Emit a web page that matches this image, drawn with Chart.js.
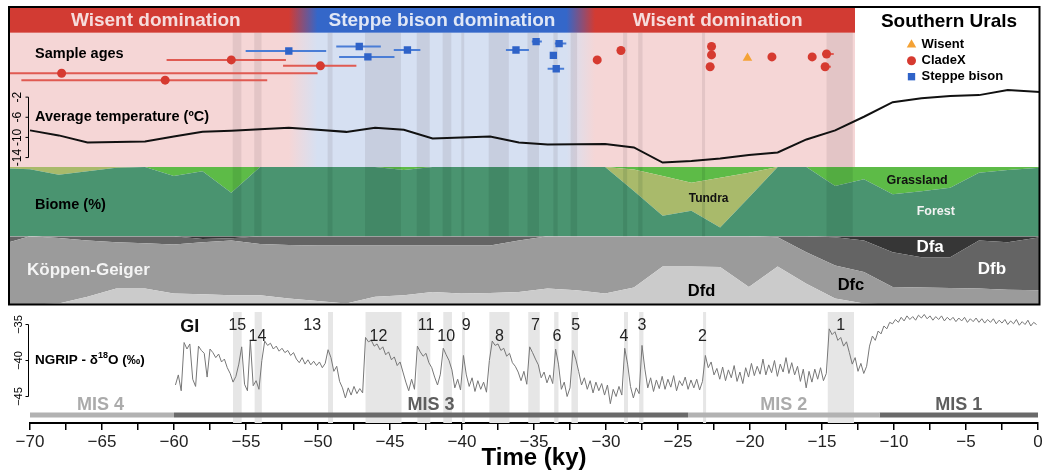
<!DOCTYPE html>
<html lang="en">
<head>
<meta charset="utf-8">
<title>Southern Urals – bison record</title>
<script src="https://cdn.jsdelivr.net/npm/chart.js@4.4.1/dist/chart.umd.min.js"></script>
<style>
  html, body { margin: 0; background: #fff; }
  #fig { position: relative; width: 1045px; height: 473px; overflow: hidden; }
  #fig canvas { position: absolute; left: 0; }
</style>
</head>
<body>
<div id="fig">
  <canvas id="panel" width="1045" height="310" style="top:0"></canvas>
  <canvas id="ngrip" width="1045" height="165" style="top:308px"></canvas>
</div>
<script>
const FONT = '"Liberation Sans", Arial, Helvetica, sans-serif';
Chart.defaults.font.family = FONT;
Chart.defaults.color = '#000';

// ---- dominance periods (ky) ----
const periodStart = [-71.5, -51.0, -31.7];
const periodEnd   = [-51.0, -31.7, -12.65];
const periodName  = ['Wisent domination', 'Steppe bison domination', 'Wisent domination'];
const periodTaxon = ['wisent', 'bison', 'wisent'];

// ---- Greenland interstadials ----
const giStart   = [-55.9, -54.4, -49.3, -46.7, -43.1, -41.3, -40.0, -38.1, -35.4, -33.6, -32.4, -28.75, -27.7, -23.26, -14.6];
const giEnd     = [-55.3, -53.9, -48.96, -44.2, -42.2, -40.7, -39.8, -36.7, -34.6, -33.3, -31.95, -28.47, -27.4, -23.05, -12.78];
const giName    = ['15', '14', '13', '12', '11', '10', '9', '8', '7', '6', '5', '4', '3', '2', '1'];
const giLabelAt = [-55.6, -54.2, -50.4, -45.8, -42.5, -41.1, -39.7, -37.4, -34.9, -33.4, -32.1, -28.75, -27.5, -23.3, -13.7];

// ---- dated samples: age, 2-sigma range, plotting row ----
const sampleClade = ['CladeX', 'CladeX', 'CladeX', 'CladeX', 'Steppe bison', 'Steppe bison', 'Steppe bison', 'Steppe bison',
  'Steppe bison', 'Steppe bison', 'Steppe bison', 'Steppe bison', 'Steppe bison', 'CladeX', 'CladeX', 'CladeX', 'CladeX',
  'CladeX', 'Wisent', 'CladeX', 'CladeX', 'CladeX', 'CladeX'];
const sampleAge = [-56.0, -49.8, -67.8, -60.6, -52.0, -47.1, -46.5, -43.75, -36.2, -34.8, -33.2, -33.6, -33.4,
  -30.55, -28.9, -22.6, -22.6, -22.7, -20.1, -18.4, -15.6, -14.6, -14.7];
const sampleMin = [-60.5, -52.4, -71.4, -70.6, -55.0, -48.7, -48.5, -44.7, -36.9, -35.1, -33.5, -33.75, -34.0,
  -30.75, -29.15, -22.6, -22.6, -22.7, -20.1, -18.4, -15.6, -14.9, -14.7];
const sampleMax = [-52.2, -47.3, -50.0, -53.5, -49.4, -45.6, -44.65, -42.85, -35.3, -34.4, -32.7, -33.45, -32.85,
  -30.35, -28.65, -22.6, -22.6, -22.4, -20.1, -18.4, -15.6, -14.1, -14.3];
const sampleRow = [5.5, 6.7, 8.2, 9.6, 3.7, 2.8, 4.9, 3.5, 3.5, 1.8, 2.2, 4.6, 7.3, 5.5, 3.6, 2.8, 4.5, 6.9, 5.1, 4.9, 4.9, 4.3, 6.9];

// ---- average temperature (degC) ----
const tempAge  = [-70, -68, -66, -64, -62, -60, -58, -56, -54, -52, -50, -48, -46, -44, -42, -40, -38, -36,
  -34, -32, -30, -28, -26, -24, -22, -20, -18, -16, -14, -12, -10, -8, -6, -4, -2, 0.25];
const tempMean = [-8.6, -9.6, -11.0, -10.9, -10.8, -9.8, -8.9, -8.7, -8.4, -8.1, -8.5, -8.9, -8.1, -8.5, -10.2, -10.0, -9.8, -11.0,
  -11.4, -11.35, -11.3, -12.0, -15.0, -14.7, -14.2, -13.5, -13.0, -10.4, -8.6, -5.9, -3.0, -2.2, -1.8, -1.6, -0.6, -1.0];

// ---- biome and Koppen-Geiger shares (%) ----
const areaAge = [-71.5, -70, -68, -66, -64, -62, -60, -58, -56, -54, -52, -50, -48, -46, -44, -42, -40, -38, -36,
  -34, -32, -30, -28, -26, -24, -22, -20, -18, -16, -14, -12, -10, -8, -6, -4, -2, 0.25];
const forestPct = [98, 97, 89, 94, 99, 100, 87, 94, 63, 100, 100, 100, 100, 100, 96, 100, 100, 100, 100,
  100, 100, 100, 65.5, 29.7, 36.8, 12.9, 56, 100, 100, 72.7, 82.3, 60.7, 65, 70.3, 91.8, 96, 99];
const tundraPct = [2, 3, 11, 6, 1, 0, 0, 0, 0, 0, 0, 0, 0, 0, 0, 0, 0, 0, 0,
  0, 0, 0, 31, 57.3, 40.7, 71.7, 35.8, 0, 0, 0, 0, 0, 0, 0, 0, 0, 0];
const grassPct  = [0, 0, 0, 0, 0, 0, 13, 6, 37, 0, 0, 0, 0, 0, 4, 0, 0, 0, 0,
  0, 0, 0, 3.5, 13, 22.5, 15.4, 8.2, 0, 0, 27.3, 17.7, 39.3, 35, 29.7, 8.2, 4, 1];
const dfdPct = [0, 0, 1.5, 11.2, 23.3, 23.3, 16, 15, 13.6, 13.6, 8.7, 5.3, 1.5, 11.2, 13.6, 18.4, 16, 17, 18.4,
  23.3, 20.9, 16, 24.8, 55.8, 55.8, 54.9, 25.7, 55.8, 30.6, 8.7, 1.5, 0, 0, 0, 0, 0, 0];
const dfcPct = [91, 100, 96.1, 82.5, 68, 66.5, 71.9, 76.3, 80.1, 75.2, 78.7, 81.1, 84.9, 75.2, 72.8, 68, 70.4, 69.4, 75.3,
  76.7, 79.1, 84, 75.2, 44.2, 44.2, 45.1, 74.3, 42.7, 46.1, 48.6, 46.1, 25.7, 24.8, 24.3, 23.3, 21.8, 20.9];
const dfbPct = [9, 0, 2.4, 6.3, 8.7, 10.2, 12.1, 4.7, 3.3, 11.2, 12.6, 13.6, 13.6, 13.6, 13.6, 13.6, 13.6, 13.6, 6.3,
  0, 0, 0, 0, 0, 0, 0, 0, 1.5, 23.3, 41.2, 46.1, 51, 44.6, 45.1, 70.4, 69.5, 77.6];
const dfaPct = [0, 0, 0, 0, 0, 0, 0, 4, 3, 0, 0, 0, 0, 0, 0, 0, 0, 0, 0,
  0, 0, 0, 0, 0, 0, 0, 0, 0, 0, 1.5, 6.3, 23.3, 30.6, 30.6, 6.3, 8.7, 1.5];

// ---- NGRIP d18O (permil), one value every 0.2 ky ----
const ngripAge = [
  -59.9, -59.7, -59.5, -59.3, -59.1, -58.9, -58.7, -58.5, -58.3, -58.1,
  -57.9, -57.7, -57.5, -57.3, -57.1, -56.9, -56.7, -56.5, -56.3, -56.1,
  -55.9, -55.7, -55.5, -55.3, -55.1, -54.9, -54.7, -54.5, -54.3, -54.1,
  -53.9, -53.7, -53.5, -53.3, -53.1, -52.9, -52.7, -52.5, -52.3, -52.1,
  -51.9, -51.7, -51.5, -51.3, -51.1, -50.9, -50.7, -50.5, -50.3, -50.1,
  -49.9, -49.7, -49.5, -49.3, -49.1, -48.9, -48.7, -48.5, -48.3, -48.1,
  -47.9, -47.7, -47.5, -47.3, -47.1, -46.9, -46.7, -46.5, -46.3, -46.1,
  -45.9, -45.7, -45.5, -45.3, -45.1, -44.9, -44.7, -44.5, -44.3, -44.1,
  -43.9, -43.7, -43.5, -43.3, -43.1, -42.9, -42.7, -42.5, -42.3, -42.1,
  -41.9, -41.7, -41.5, -41.3, -41.1, -40.9, -40.7, -40.5, -40.3, -40.1,
  -39.9, -39.7, -39.5, -39.3, -39.1, -38.9, -38.7, -38.5, -38.3, -38.1,
  -37.9, -37.7, -37.5, -37.3, -37.1, -36.9, -36.7, -36.5, -36.3, -36.1,
  -35.9, -35.7, -35.5, -35.3, -35.1, -34.9, -34.7, -34.5, -34.3, -34.1,
  -33.9, -33.7, -33.5, -33.3, -33.1, -32.9, -32.7, -32.5, -32.3, -32.1,
  -31.9, -31.7, -31.5, -31.3, -31.1, -30.9, -30.7, -30.5, -30.3, -30.1,
  -29.9, -29.7, -29.5, -29.3, -29.1, -28.9, -28.7, -28.5, -28.3, -28.1,
  -27.9, -27.7, -27.5, -27.3, -27.1, -26.9, -26.7, -26.5, -26.3, -26.1,
  -25.9, -25.7, -25.5, -25.3, -25.1, -24.9, -24.7, -24.5, -24.3, -24.1,
  -23.9, -23.7, -23.5, -23.3, -23.1, -22.9, -22.7, -22.5, -22.3, -22.1,
  -21.9, -21.7, -21.5, -21.3, -21.1, -20.9, -20.7, -20.5, -20.3, -20.1,
  -19.9, -19.7, -19.5, -19.3, -19.1, -18.9, -18.7, -18.5, -18.3, -18.1,
  -17.9, -17.7, -17.5, -17.3, -17.1, -16.9, -16.7, -16.5, -16.3, -16.1,
  -15.9, -15.7, -15.5, -15.3, -15.1, -14.9, -14.7, -14.5, -14.3, -14.1,
  -13.9, -13.7, -13.5, -13.3, -13.1, -12.9, -12.7, -12.5, -12.3, -12.1,
  -11.9, -11.7, -11.5, -11.3, -11.1, -10.9, -10.7, -10.5, -10.3, -10.1,
  -9.9, -9.7, -9.5, -9.3, -9.1, -8.9, -8.7, -8.5, -8.3, -8.1,
  -7.9, -7.7, -7.5, -7.3, -7.1, -6.9, -6.7, -6.5, -6.3, -6.1,
  -5.9, -5.7, -5.5, -5.3, -5.1, -4.9, -4.7, -4.5, -4.3, -4.1,
  -3.9, -3.7, -3.5, -3.3, -3.1, -2.9, -2.7, -2.5, -2.3, -2.1,
  -1.9, -1.7, -1.5, -1.3, -1.1, -0.9, -0.7, -0.5, -0.3, -0.1];
const ngripD18O = [
  -43.4, -42.0, -44.2, -37.5, -38.4, -37.7, -42.6, -43.6, -38.0, -38.6,
  -39.0, -42.3, -38.4, -38.9, -39.6, -39.1, -40.2, -39.8, -41.0, -41.8,
  -43.0, -42.2, -40.5, -38.1, -43.3, -44.2, -37.2, -43.5, -42.8, -44.0,
  -40.0, -37.3, -37.9, -37.6, -38.4, -38.0, -38.7, -38.3, -38.9, -38.6,
  -39.3, -38.9, -39.8, -40.3, -39.6, -40.5, -39.9, -40.6, -40.1, -40.7,
  -40.2, -41.0, -40.4, -38.5, -39.6, -41.5, -40.8, -42.9, -43.8, -45.2,
  -43.8, -44.8, -43.6, -44.6, -43.9, -44.5, -36.8, -37.4, -37.2, -38.0,
  -37.7, -38.5, -38.1, -39.2, -38.8, -39.9, -39.5, -40.7, -40.2, -41.6,
  -43.0, -44.2, -42.6, -44.0, -38.0, -38.8, -39.4, -39.0, -40.3, -41.0,
  -42.3, -43.4, -41.9, -38.3, -39.2, -40.0, -41.3, -43.8, -42.6, -44.1,
  -39.3, -42.0, -43.6, -42.4, -44.3, -42.8, -44.0, -43.0, -44.4, -40.0,
  -37.3, -37.9, -37.7, -38.6, -38.3, -39.4, -39.0, -40.3, -40.8, -41.6,
  -42.8, -41.5, -43.3, -38.1, -38.9, -39.8, -40.6, -42.4, -41.6, -43.1,
  -42.0, -43.2, -38.4, -40.5, -44.0, -43.0, -45.0, -43.8, -38.6, -39.8,
  -41.5, -43.4, -42.4, -44.0, -42.8, -44.5, -43.0, -44.2, -43.2, -44.8,
  -43.4, -46.0, -44.0, -45.0, -43.6, -44.8, -38.3, -40.5, -43.6, -45.2,
  -43.8, -44.6, -37.9, -41.2, -43.8, -42.4, -44.3, -42.7, -43.9, -42.2,
  -44.0, -42.6, -43.7, -42.1, -44.2, -42.8, -43.5, -42.3, -44.0, -42.7,
  -43.8, -42.6, -44.1, -42.9, -39.3, -41.0, -40.2, -42.0, -41.1, -42.6,
  -40.9, -42.8, -41.3, -42.4, -40.7, -42.9, -41.6, -43.2, -41.0, -42.3,
  -40.4, -42.1, -40.8, -41.9, -39.8, -42.0, -40.6, -41.7, -40.0, -42.2,
  -40.5, -41.6, -39.6, -41.8, -40.3, -42.0, -40.8, -42.9, -41.2, -43.8,
  -41.5, -43.0, -41.2, -42.6, -41.0, -42.8, -41.8, -35.6, -36.4, -36.0,
  -37.2, -36.8, -38.0, -37.4, -38.9, -40.5, -39.6, -41.5, -40.4, -41.8,
  -40.8, -38.0, -36.6, -37.2, -35.9, -36.3, -35.2, -35.6, -34.7, -34.9,
  -34.3, -34.7, -34.0, -34.5, -33.8, -34.3, -33.9, -34.4, -33.7, -34.1,
  -33.6, -34.2, -33.8, -34.4, -33.9, -34.3, -33.8, -34.5, -34.0, -34.4,
  -34.0, -34.6, -34.1, -34.5, -34.0, -34.7, -34.2, -34.6, -34.1, -34.7,
  -34.2, -34.8, -34.3, -34.7, -34.2, -34.9, -34.4, -34.8, -34.3, -35.0,
  -34.5, -34.9, -34.3, -35.1, -34.6, -35.0, -34.4, -35.2, -34.7, -35.0];

// ---- marine isotope stages ----
const misName  = ['MIS 4', 'MIS 3', 'MIS 2', 'MIS 1'];
const misStart = [-70.2, -60, -24.3, -11];
const misEnd   = [-60, -24.3, -11, 0];

// ---------------------------------------------------------------------
const COL = {
  wisentBar: '#d23b33', wisentBg: '#f5d6d6', wisentText: '#f6dcdc',
  bisonBar: '#3467c9', bisonBg: '#d6e0f2', bisonText: '#e0e7f6',
  forest: '#4a9470', tundra: '#a9ba6b', grass: '#5dbb47',
  dfd: '#cbcbcb', dfc: '#9b9b9b', dfb: '#646464', dfa: '#363636',
  CladeX: '#d63a30', 'Steppe bison': '#2f63c8', Wisent: '#f4a235',
  CladeXBar: '#e05a52', 'Steppe bisonBar': '#4a7dd6'
};
const MARK = {
  Wisent: { pointStyle: 'triangle', radius: 5.5 },
  CladeX: { pointStyle: 'circle', radius: 4.5 },
  'Steppe bison': { pointStyle: 'rect', radius: 5.2 }
};
const BLEND = 1.0;          // ky of colour blending between dominance periods
const MIS_LEVEL = -47.57;   // d18O level at which the MIS bars sit

const pts = (xs, ys) => xs.map((x, i) => ({ x, y: ys[i] }));
const minus = v => String(v).replace('-', '\u2212');

function sampleDataset(clade) {
  const data = [];
  sampleAge.forEach((a, i) => { if (sampleClade[i] === clade) data.push({ x: a, y: sampleRow[i] }); });
  return {
    type: 'scatter', label: clade, data, yAxisID: 'yAge', order: 0,
    pointStyle: MARK[clade].pointStyle, pointRadius: MARK[clade].radius,
    backgroundColor: COL[clade], borderWidth: 0, pointBorderWidth: 0
  };
}

function rangeDataset(clade) {
  const data = [];
  sampleAge.forEach((a, i) => {
    if (sampleClade[i] !== clade || sampleMax[i] <= sampleMin[i]) return;
    data.push({ x: sampleMin[i], y: sampleRow[i] }, { x: sampleMax[i], y: sampleRow[i] }, { x: sampleMax[i], y: null });
  });
  return {
    label: clade + ' range', data, yAxisID: 'yAge', order: 1,
    borderColor: COL[clade + 'Bar'], borderWidth: 2, pointRadius: 0, spanGaps: false
  };
}

function area(label, ys, color, axis, fill) {
  return {
    label, data: pts(areaAge, ys), yAxisID: axis, order: 10, fill,
    backgroundColor: color, borderWidth: 0, pointRadius: 0, tension: 0
  };
}

function periodGradient(chart, key) {
  const { ctx, chartArea: a, scales: { x } } = chart;
  const g = ctx.createLinearGradient(a.left, 0, a.right, 0);
  const f = t => Math.min(1, Math.max(0, (x.getPixelForValue(t) - a.left) / a.width));
  const n = periodStart.length;
  periodStart.forEach((t0, i) => {
    const c = COL[periodTaxon[i] + key];
    g.addColorStop(f(i > 0 ? t0 + BLEND : t0), c);
    g.addColorStop(f(i < n - 1 ? periodEnd[i] - BLEND : periodEnd[i]), c);
  });
  g.addColorStop(f(periodEnd[n - 1]), '#ffffff');
  g.addColorStop(1, '#ffffff');
  return g;
}

function label(ctx, str, x, y, font, color, align) {
  ctx.font = font;
  ctx.fillStyle = color;
  ctx.textAlign = align || 'center';
  ctx.textBaseline = 'middle';
  ctx.fillText(str, x, y);
}

// backdrop, header bar, annotations and frame of the upper panel
const panelDecor = {
  id: 'panelDecor',
  beforeDatasetsDraw(chart) {
    const { ctx, chartArea: a, scales: s } = chart;
    const X = t => s.x.getPixelForValue(t);
    ctx.save();
    ctx.fillStyle = periodGradient(chart, 'Bg');
    ctx.fillRect(a.left, s.yAge.top, a.width, s.yTemp.bottom - s.yAge.top);
    ctx.fillStyle = periodGradient(chart, 'Bar');
    ctx.fillRect(a.left, s.yBar.top, a.width, s.yBar.bottom - s.yBar.top);
    ctx.fillStyle = 'rgba(70,50,60,0.10)';
    giStart.forEach((t0, i) => ctx.fillRect(X(t0), s.yAge.top, X(giEnd[i]) - X(t0), s.yTemp.bottom - s.yAge.top));
    ctx.restore();
  },
  afterDatasetsDraw(chart) {
    const { ctx, chartArea: a, scales: s } = chart;
    const X = t => s.x.getPixelForValue(t);
    ctx.save();
    ctx.fillStyle = 'rgba(0,40,20,0.10)';
    giStart.forEach((t0, i) => ctx.fillRect(X(t0), s.yBiome.top, X(giEnd[i]) - X(t0), s.yBiome.bottom - s.yBiome.top));

    // header
    const barY = (s.yBar.top + s.yBar.bottom) / 2 + 1;
    periodName.forEach((name, i) => {
      label(ctx, name, X((periodStart[i] + periodEnd[i]) / 2), barY, `bold 19px ${FONT}`, COL[periodTaxon[i] + 'Text']);
    });
    const whiteMid = (X(periodEnd[periodEnd.length - 1]) + a.right) / 2;
    label(ctx, 'Southern Urals', whiteMid + 2, barY + 1, `bold 19px ${FONT}`, '#000');

    // legend
    ['Wisent', 'CladeX', 'Steppe bison'].forEach((clade, i) => {
      const y = s.yAge.top + 12 + i * 16;
      const lx = a.right - 128;
      ctx.fillStyle = COL[clade];
      Chart.helpers.drawPoint(ctx, { pointStyle: MARK[clade].pointStyle, radius: MARK[clade].radius, rotation: 0, borderWidth: 0 }, lx, y);
      label(ctx, clade, lx + 10, y, `bold 13px ${FONT}`, '#000', 'left');
    });

    // panel titles
    label(ctx, 'Sample ages', a.left + 26, s.yAge.top + 21, `bold 14.5px ${FONT}`, '#000', 'left');
    label(ctx, 'Average temperature (\u00baC)', a.left + 26, s.yTemp.top + 30, `bold 14.5px ${FONT}`, '#000', 'left');
    label(ctx, 'Biome (%)', a.left + 26, s.yBiome.top + 38, `bold 14.5px ${FONT}`, '#000', 'left');
    label(ctx, 'K\u00f6ppen-Geiger', a.left + 18, s.yKoppen.top + 34, `bold 17px ${FONT}`, '#f4f4f4', 'left');

    // class names inside the stacked areas
    label(ctx, 'Tundra', X(-22.8), s.yBiome.getPixelForValue(55), `bold 12px ${FONT}`, '#111');
    label(ctx, 'Grassland', X(-8.3), s.yBiome.getPixelForValue(81), `bold 12.5px ${FONT}`, '#111');
    label(ctx, 'Forest', X(-7.0), s.yBiome.getPixelForValue(36), `bold 12.5px ${FONT}`, '#f2f2f2');
    label(ctx, 'Dfa', X(-7.4), s.yKoppen.getPixelForValue(84), `bold 17px ${FONT}`, '#fff');
    label(ctx, 'Dfb', X(-3.1), s.yKoppen.getPixelForValue(51), `bold 17px ${FONT}`, '#fff');
    label(ctx, 'Dfc', X(-12.9), s.yKoppen.getPixelForValue(28), `bold 16.5px ${FONT}`, '#000');
    label(ctx, 'Dfd', X(-23.3), s.yKoppen.getPixelForValue(18.5), `bold 16.5px ${FONT}`, '#000');

    // temperature axis
    const ax = a.left + 19.5, yT = s.yTemp;
    ctx.strokeStyle = '#000';
    ctx.lineWidth = 1;
    ctx.beginPath();
    ctx.moveTo(ax, yT.getPixelForValue(-2));
    ctx.lineTo(ax, yT.getPixelForValue(-14));
    [-2, -6, -10, -14].forEach(v => {
      const y = yT.getPixelForValue(v);
      ctx.moveTo(ax - 3, y);
      ctx.lineTo(ax, y);
    });
    ctx.stroke();
    [-2, -6, -10, -14].forEach(v => {
      ctx.save();
      ctx.translate(ax - 11, yT.getPixelForValue(v));
      ctx.rotate(-Math.PI / 2);
      label(ctx, String(v), 0, 0, `12px ${FONT}`, '#000');
      ctx.restore();
    });

    // frame
    ctx.strokeStyle = '#000';
    ctx.lineWidth = 2;
    ctx.strokeRect(a.left, a.top, a.width, a.height);
    ctx.restore();
  }
};

new Chart(document.getElementById('panel'), {
  type: 'line',
  data: {
    datasets: [
      sampleDataset('Wisent'),
      sampleDataset('CladeX'),
      sampleDataset('Steppe bison'),
      rangeDataset('CladeX'),
      rangeDataset('Steppe bison'),
      {
        label: 'Average temperature', data: pts(tempAge, tempMean), yAxisID: 'yTemp', order: 2,
        borderColor: '#111', borderWidth: 2, pointRadius: 0, tension: 0
      },
      area('Forest', forestPct, COL.forest, 'yBiome', 'origin'),
      area('Tundra', tundraPct, COL.tundra, 'yBiome', '-1'),
      area('Grassland', grassPct, COL.grass, 'yBiome', '-1'),
      area('Dfd', dfdPct, COL.dfd, 'yKoppen', 'origin'),
      area('Dfc', dfcPct, COL.dfc, 'yKoppen', '-1'),
      area('Dfb', dfbPct, COL.dfb, 'yKoppen', '-1'),
      area('Dfa', dfaPct, COL.dfa, 'yKoppen', '-1')
    ]
  },
  options: {
    responsive: false,
    animation: false,
    layout: { padding: { left: 9, right: 4, top: 7, bottom: 2 } },
    plugins: { legend: { display: false }, tooltip: { enabled: false } },
    scales: {
      x: { type: 'linear', min: -71.46, max: 0.21, display: false },
      yBar:    { type: 'linear', position: 'right', stack: 'panel', stackWeight: 26, min: 0, max: 1, display: false },
      yAge:    { type: 'linear', position: 'right', stack: 'panel', stackWeight: 55, min: 0, max: 11, reverse: true, display: false },
      yTemp:   { type: 'linear', position: 'right', stack: 'panel', stackWeight: 81, min: -15.9, max: 0, display: false },
      yBiome:  { type: 'linear', position: 'right', stack: 'panel', stackWeight: 70, min: 0, max: 100, stacked: true, display: false },
      yKoppen: { type: 'linear', position: 'right', stack: 'panel', stackWeight: 69, min: 0, max: 100, stacked: true, display: false }
    }
  },
  plugins: [panelDecor]
});

// interstadial bands, labels and d18O axis of the ice-core panel
const ngripDecor = {
  id: 'ngripDecor',
  beforeDatasetsDraw(chart) {
    const { ctx, chartArea: a, scales: { x } } = chart;
    ctx.save();
    ctx.fillStyle = '#e6e6e6';
    giStart.forEach((t0, i) => {
      const l = x.getPixelForValue(t0);
      ctx.fillRect(l, a.top, x.getPixelForValue(giEnd[i]) - l, a.bottom - a.top);
    });
    ctx.restore();
  },
  afterDatasetsDraw(chart) {
    const { ctx, chartArea: a, scales: { x, y } } = chart;
    ctx.save();
    giName.forEach((n, i) => {
      label(ctx, n, x.getPixelForValue(giLabelAt[i]), a.top + (i % 2 ? 25 : 14), `16px ${FONT}`, '#222');
    });
    label(ctx, 'GI', x.getPixelForValue(-58.9), a.top + 15, `bold 18px ${FONT}`, '#111');

    misName.forEach((n, i) => {
      const c = i % 2 ? '#5e5e5e' : '#ababab';
      label(ctx, n, x.getPixelForValue((misStart[i] + misEnd[i]) / 2), a.bottom - 18, `bold 18px ${FONT}`, c);
    });

    // d18O axis bracket
    const ax = 28.5;
    ctx.strokeStyle = '#000';
    ctx.lineWidth = 1;
    ctx.beginPath();
    ctx.moveTo(ax, y.getPixelForValue(-35));
    ctx.lineTo(ax, y.getPixelForValue(-45));
    [-35, -40, -45].forEach(v => {
      const yy = y.getPixelForValue(v);
      ctx.moveTo(ax - 3, yy);
      ctx.lineTo(ax, yy);
    });
    ctx.stroke();
    [-35, -40, -45].forEach(v => {
      ctx.save();
      ctx.translate(ax - 10, y.getPixelForValue(v));
      ctx.rotate(-Math.PI / 2);
      label(ctx, minus(v), 0, 0, `11px ${FONT}`, '#000');
      ctx.restore();
    });

    // panel title with superscript
    const ty = y.getPixelForValue(-40);
    let tx = 35;
    ctx.font = `bold 13.5px ${FONT}`;
    ctx.fillStyle = '#000';
    ctx.textAlign = 'left';
    ctx.textBaseline = 'middle';
    const p1 = 'NGRIP - \u03b4';
    ctx.fillText(p1, tx, ty);
    tx += ctx.measureText(p1).width;
    ctx.font = `bold 9px ${FONT}`;
    ctx.fillText('18', tx, ty - 5);
    tx += ctx.measureText('18').width;
    ctx.font = `bold 13.5px ${FONT}`;
    ctx.fillText('O (\u2030)', tx, ty);
    ctx.restore();
  }
};

const misDatasets = misName.map((n, i) => ({
  label: n, data: [{ x: misStart[i], y: MIS_LEVEL }, { x: misEnd[i], y: MIS_LEVEL }],
  borderColor: i % 2 ? '#6a6a6a' : '#b2b2b2', borderWidth: 5, borderCapStyle: 'butt', pointRadius: 0, order: 2
}));

new Chart(document.getElementById('ngrip'), {
  type: 'line',
  data: {
    datasets: [
      {
        label: 'NGRIP d18O', data: pts(ngripAge, ngripD18O), order: 1,
        borderColor: '#777777', borderWidth: 1, pointRadius: 0, tension: 0
      },
      ...misDatasets
    ]
  },
  options: {
    responsive: false,
    animation: false,
    layout: { padding: { left: 30, right: 7, top: 4, bottom: 0 } },
    plugins: { legend: { display: false }, tooltip: { enabled: false } },
    scales: {
      x: {
        type: 'linear', min: -70, max: 0,
        afterFit(scale) { scale.height = 50; },
        border: { display: true, color: '#000', width: 2 },
        grid: { drawOnChartArea: false, drawTicks: true, tickLength: 7, color: '#000', lineWidth: 1.5 },
        ticks: {
          stepSize: 2.5, autoSkip: false, maxRotation: 0, padding: 2, color: '#222', font: { size: 17 },
          callback: v => (v % 5 === 0 ? minus(v) : '')
        },
        title: { display: true, text: 'Time (ky)', color: '#000', font: { size: 24, weight: 'bold' }, padding: { top: 0, bottom: 0 } }
      },
      y: { min: -48.68, max: -33.26, display: false }
    }
  },
  plugins: [ngripDecor]
});
</script>
</body>
</html>
